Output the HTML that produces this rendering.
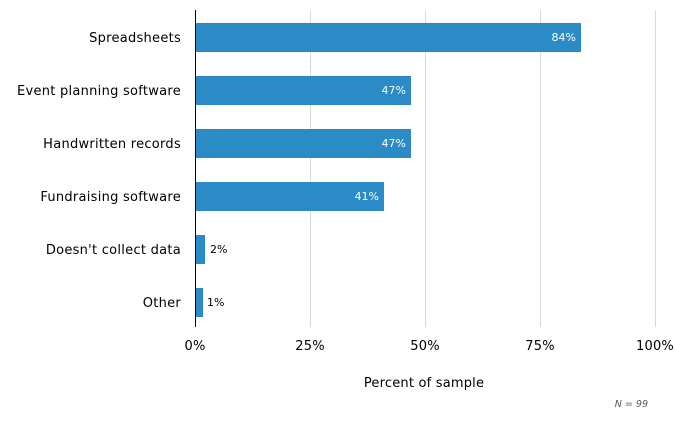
<!DOCTYPE html>
<html><head><style>
body{margin:0;background:#fff;}
svg text{font-family:"DejaVu Sans","Liberation Sans",sans-serif;}
</style></head><body>
<svg width="675" height="428" xmlns="http://www.w3.org/2000/svg">
<g stroke="#d9d9d9" stroke-width="1">
<line x1="310.5" y1="10" x2="310.5" y2="327"/>
<line x1="425.5" y1="10" x2="425.5" y2="327"/>
<line x1="540.5" y1="10" x2="540.5" y2="327"/>
<line x1="655.5" y1="10" x2="655.5" y2="327"/>
</g>
<g fill="#2a8bc7">
<rect x="195" y="23" width="386" height="29"/>
<rect x="195" y="76" width="216" height="29"/>
<rect x="195" y="129" width="216" height="29"/>
<rect x="195" y="182" width="189" height="29"/>
<rect x="195" y="235" width="10" height="29"/>
<rect x="195" y="288" width="8" height="29"/>
</g>
<line x1="195.5" y1="10" x2="195.5" y2="327" stroke="#000" stroke-width="1"/>
<g font-size="13" fill="#000" text-anchor="end" letter-spacing="0.27">
<text x="181" y="42">Spreadsheets</text>
<text x="181" y="95">Event planning software</text>
<text x="181" y="148">Handwritten records</text>
<text x="181" y="201">Fundraising software</text>
<text x="181" y="254">Doesn't collect data</text>
<text x="181" y="307">Other</text>
</g>
<g font-size="11" fill="#fff" text-anchor="end">
<text x="576" y="41">84%</text>
<text x="406" y="94">47%</text>
<text x="406" y="147">47%</text>
<text x="379" y="200">41%</text>
</g>
<g font-size="11" fill="#000">
<text x="210" y="253">2%</text>
<text x="207" y="306">1%</text>
</g>
<g font-size="13" fill="#000" text-anchor="middle" letter-spacing="0.2">
<text x="195" y="350">0%</text>
<text x="310" y="350">25%</text>
<text x="425" y="350">50%</text>
<text x="540" y="350">75%</text>
<text x="655" y="350">100%</text>
<text x="424" y="387">Percent of sample</text>
</g>
<text x="648" y="407" font-size="9.5" font-style="italic" fill="#555" text-anchor="end">N = 99</text>
</svg>
</body></html>
